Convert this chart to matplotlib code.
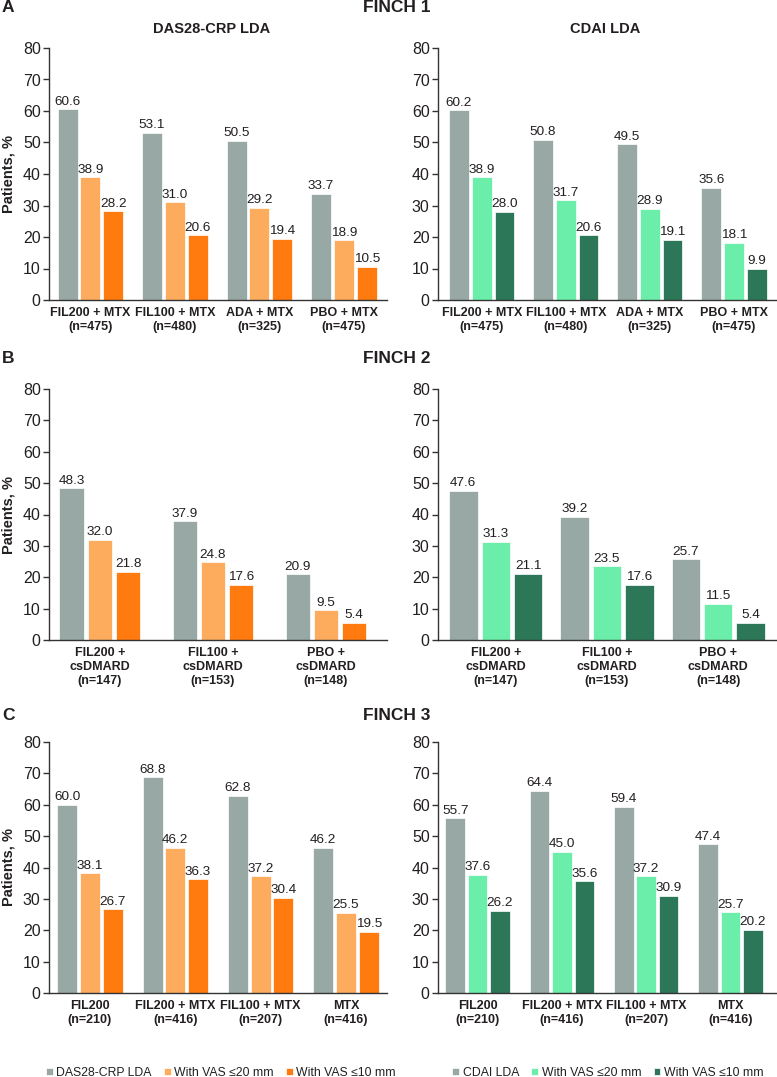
import matplotlib
matplotlib.use('Agg')
import matplotlib.pyplot as plt
import numpy as np

plt.rcParams['font.family'] = ['Liberation Sans', 'DejaVu Sans']

# ---------------- data ----------------
A_cats = ['FIL200 + MTX\n(n=475)', 'FIL100 + MTX\n(n=480)', 'ADA + MTX\n(n=325)', 'PBO + MTX\n(n=475)']
A_das = [60.6, 53.1, 50.5, 33.7]
A_das20 = [38.9, 31.0, 29.2, 18.9]
A_das10 = [28.2, 20.6, 19.4, 10.5]
A_cdai = [60.2, 50.8, 49.5, 35.6]
A_cdai20 = [38.9, 31.7, 28.9, 18.1]
A_cdai10 = [28.0, 20.6, 19.1, 9.9]

B_cats = ['FIL200 +\ncsDMARD\n(n=147)', 'FIL100 +\ncsDMARD\n(n=153)', 'PBO +\ncsDMARD\n(n=148)']
B_das = [48.3, 37.9, 20.9]
B_das20 = [32.0, 24.8, 9.5]
B_das10 = [21.8, 17.6, 5.4]
B_cdai = [47.6, 39.2, 25.7]
B_cdai20 = [31.3, 23.5, 11.5]
B_cdai10 = [21.1, 17.6, 5.4]

C_cats = ['FIL200\n(n=210)', 'FIL200 + MTX\n(n=416)', 'FIL100 + MTX\n(n=207)', 'MTX\n(n=416)']
C_das = [60.0, 68.8, 62.8, 46.2]
C_das20 = [38.1, 46.2, 37.2, 25.5]
C_das10 = [26.7, 36.3, 30.4, 19.5]
C_cdai = [55.7, 64.4, 59.4, 47.4]
C_cdai20 = [37.6, 45.0, 37.2, 25.7]
C_cdai10 = [26.2, 35.6, 30.9, 20.2]

das_labels = ['DAS28-CRP LDA', 'With VAS \u226420 mm', 'With VAS \u226410 mm']
cdai_labels = ['CDAI LDA', 'With VAS \u226420 mm', 'With VAS \u226410 mm']

GREY = '#97a8a5'
OR_L = '#fdab5c'
OR_D = '#ff7b0f'
GR_L = '#6aeea9'
GR_D = '#2b7757'
TXT = '#231f20'

W, H = 777, 1077
fig = plt.figure(figsize=(W / 100, H / 100), dpi=100)


def rect(x0, x1, y0, y1):
    return [x0 / W, 1 - y1 / H, (x1 - x0) / W, (y1 - y0) / H]


rows = [(48, 300), (389, 640), (742, 993)]
cols = [(49, 387), (438, 776)]


def draw(ax, cats, series, labels, colors, xlim, width, step):
    x = np.arange(len(cats))
    handles = []
    for k, (vals, c, lab) in enumerate(zip(series, colors, labels)):
        bars = ax.bar(x + (k - 1) * step, vals, width, color=c,
                      edgecolor='white', linewidth=0.5, label=lab)
        handles.append(bars)
        for b, v in zip(bars, vals):
            ax.text(b.get_x() + b.get_width() / 2, v + 0.5, f'{v:.1f}',
                    ha='center', va='bottom', fontsize=9.7, color=TXT)
    ax.set_ylim(0, 80)
    ax.set_xlim(*xlim)
    ax.set_yticks(range(0, 81, 10))
    ax.set_xticks(x)
    ax.set_xticklabels(cats, fontweight='bold', fontsize=9, color=TXT,
                       linespacing=1.2)
    ax.tick_params(axis='x', length=0, pad=5)
    ax.tick_params(axis='y', length=4, width=1, labelsize=11.5, pad=2,
                   color='#333333', labelcolor=TXT)
    for s in ['top', 'right']:
        ax.spines[s].set_visible(False)
    for s in ['left', 'bottom']:
        ax.spines[s].set_color('#333333')
        ax.spines[s].set_linewidth(1)
    return handles


panels = [
    (0, 0, A_cats, [A_das, A_das20, A_das10], das_labels, [GREY, OR_L, OR_D], (-0.49, 3.51), 0.235, 0.27),
    (0, 1, A_cats, [A_cdai, A_cdai20, A_cdai10], cdai_labels, [GREY, GR_L, GR_D], (-0.52, 3.50), 0.235, 0.27),
    (1, 0, B_cats, [B_das, B_das20, B_das10], das_labels, [GREY, OR_L, OR_D], (-0.45, 2.54), 0.215, 0.25),
    (1, 1, B_cats, [B_cdai, B_cdai20, B_cdai10], cdai_labels, [GREY, GR_L, GR_D], (-0.52, 2.52), 0.255, 0.292),
    (2, 0, C_cats, [C_das, C_das20, C_das10], das_labels, [GREY, OR_L, OR_D], (-0.48, 3.48), 0.232, 0.266),
    (2, 1, C_cats, [C_cdai, C_cdai20, C_cdai10], cdai_labels, [GREY, GR_L, GR_D], (-0.47, 3.54), 0.232, 0.266),
]

leg_handles = {}
for r, c, cats, series, labels, colors, xlim, width, step in panels:
    y0, y1 = rows[r]
    x0, x1 = cols[c]
    ax = fig.add_axes(rect(x0, x1, y0, y1))
    h = draw(ax, cats, series, labels, colors, xlim, width, step)
    leg_handles[c] = (h, labels)
    if c == 0:
        fig.text(9 / W, 1 - ((y0 + y1) / 2) / H, 'Patients, %', rotation=90,
                 ha='center', va='center', fontsize=10.5, fontweight='bold', color=TXT)

# titles
for letter, title, y in [('A', 'FINCH 1', 8), ('B', 'FINCH 2', 359), ('C', 'FINCH 3', 716)]:
    fig.text(2 / W, 1 - y / H, letter, ha='left', va='center', fontsize=12.5,
             fontweight='bold', color=TXT)
    fig.text(397 / W, 1 - y / H, title, ha='center', va='center', fontsize=12.5,
             fontweight='bold', color=TXT)

fig.text(212 / W, 1 - 29 / H, 'DAS28-CRP LDA', ha='center', va='center',
         fontsize=10.5, fontweight='bold', color=TXT)
fig.text(605 / W, 1 - 29 / H, 'CDAI LDA', ha='center', va='center',
         fontsize=10.5, fontweight='bold', color=TXT)

# legends
for c, cx in [(0, 221), (1, 608)]:
    h, labels = leg_handles[c]
    fig.legend(h, labels, loc='center', bbox_to_anchor=(cx / W, 1 - 1073 / H),
               ncol=3, frameon=False, fontsize=8.8, handlelength=0.55,
               handleheight=0.55, handletextpad=0.3, columnspacing=1.0,
               borderaxespad=0, labelcolor=TXT)

fig.savefig('out.png', dpi=100)
